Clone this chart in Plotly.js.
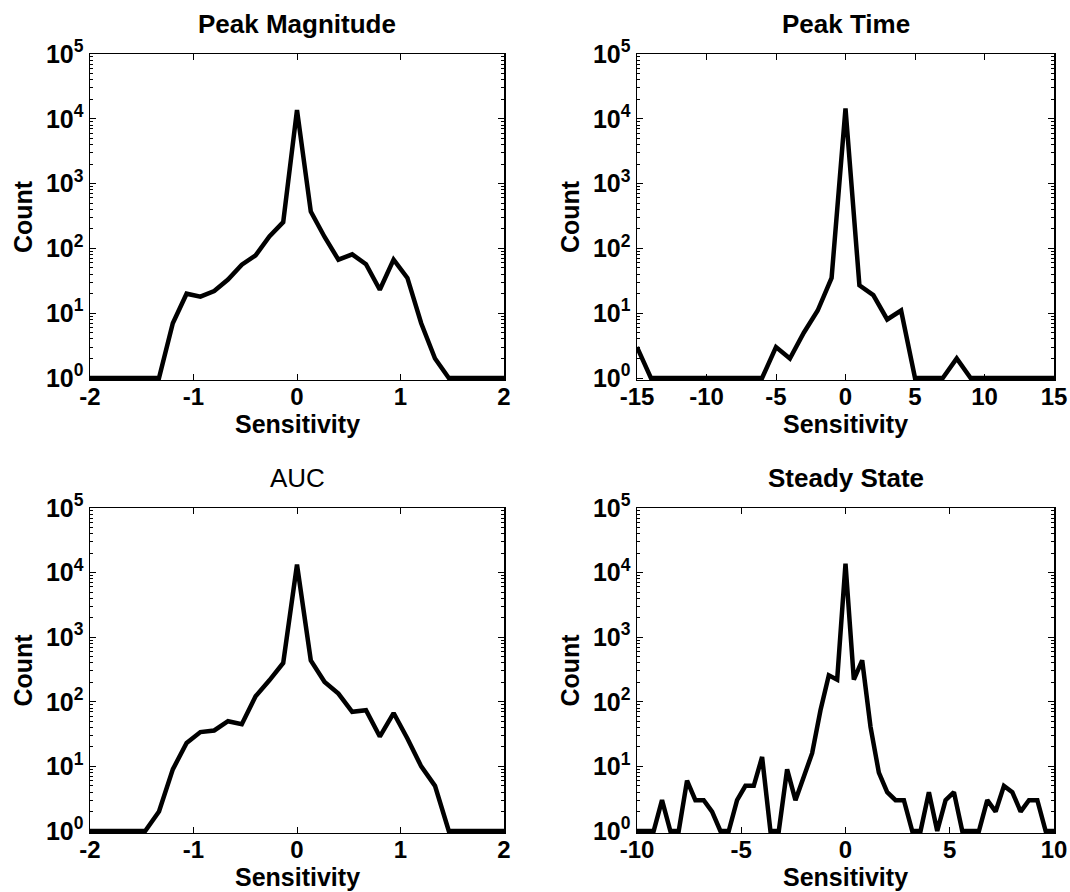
<!DOCTYPE html>
<html><head><meta charset="utf-8">
<script src="https://cdn.plot.ly/plotly-3.0.1.min.js"></script>
<style>html,body{margin:0;padding:0;background:#fff}#chart{width:1070px;height:892px}</style>
</head><body><div id="chart"></div>
<script>
// ---- data ----
const binX_pm = [-2.0000,-1.8667,-1.7333,-1.6000,-1.4667,-1.3333,-1.2000,-1.0667,-0.9333,-0.8000,-0.6667,-0.5333,-0.4000,-0.2667,-0.1333,0,0.1333,0.2667,0.4000,0.5333,0.6667,0.8000,0.9333,1.0667,1.2000,1.3333,1.4667,1.6000,1.7333,1.8667,2.0000];
const peakMagCount = [1,1,1,1,1,1,7,20,18,22,33,56,78,153,254,13700,371,150,67,81,57,23,67,35,7,2,1,1,1,1,1];
const aucCount = [1,1,1,1,1,2,9,23,34,36,50,45,122,215,399,13270,438,203,134,70,74,29,67,27,10,5,1,1,1,1,1];
const binX_pt = [-15,-14,-13,-12,-11,-10,-9,-8,-7,-6,-5,-4,-3,-2,-1,0,1,2,3,4,5,6,7,8,9,10,11,12,13,14,15];
const peakTimeCount = [3,1,1,1,1,1,1,1,1,1,3,2,5,11,35,14500,27,19,8,11,1,1,1,2,1,1,1,1,1,1,1];
const binX_ss = [-10,-9.6,-9.2,-8.8,-8.4,-8.0,-7.6,-7.2,-6.8,-6.4,-6.0,-5.6,-5.2,-4.8,-4.4,-4.0,-3.6,-3.2,-2.8,-2.4,-2.0,-1.6,-1.2,-0.8,-0.4,0,0.4,0.8,1.2,1.6,2.0,2.4,2.8,3.2,3.6,4.0,4.4,4.8,5.2,5.6,6.0,6.4,6.8,7.2,7.6,8.0,8.4,8.8,9.2,9.6,10];
const steadyCount = [1,1,1,3,1,1,6,3,3,2,1,1,3,5,5,14,1,1,9,3,7,16,74,257,220,13750,220,438,41,8,4,3,3,1,1,4,1,3,4,1,1,1,3,2,5,4,2,3,3,1,1];
const panelTitles = ["Peak Magnitude","Peak Time","AUC","Steady State"];
const xRanges = [[-2,2],[-15,15],[-2,2],[-10,10]];
const xTickVals_pm = [-2,-1,0,1,2];
const xTickText_pm = ["-2","-1","0","1","2"];
const xTickVals_pt = [-15,-10,-5,0,5,10,15];
const xTickText_pt = ["-15","-10","-5","0","5","10","15"];
const xTickVals_ss = [-10,-5,0,5,10];
const xTickText_ss = ["-10","-5","0","5","10"];
const yTickVals = [1,10,100,1000,10000,100000];
const yTickText = ["10<sup>0</sup>","10<sup>1</sup>","10<sup>2</sup>","10<sup>3</sup>","10<sup>4</sup>","10<sup>5</sup>"];
const xLabel = "Sensitivity", yLabel = "Count";

// ---- layout geometry (pixels) ----
const W = 1070, H = 892;
const FONT = "Liberation Sans, Arial, Helvetica, sans-serif";
const ext = 0.03; // decades below 10^0 so the baseline line is not half clipped
const boxes = [ // [left, right, top, y=1 pixel]
  [90, 504, 54, 378],
  [637, 1054, 54, 378],
  [90, 504, 508, 831],
  [637, 1054, 508, 831]
];
const xTicks = [[xTickVals_pm, xTickText_pm],[xTickVals_pt, xTickText_pt],[xTickVals_pm, xTickText_pm],[xTickVals_ss, xTickText_ss]];
const minorVals = [];
for (let d = 0; d < 5; d++) for (let k = 2; k <= 9; k++) minorVals.push(k * Math.pow(10, d));

const series = [[binX_pm, peakMagCount],[binX_pt, peakTimeCount],[binX_pm, aucCount],[binX_ss, steadyCount]];
const traces = [];
const layout = {
  width: W, height: H, showlegend: false,
  margin: {l: 0, r: 0, t: 0, b: 0},
  paper_bgcolor: "#fff", plot_bgcolor: "#fff",
  font: {family: FONT, color: "#000"},
  annotations: []
};

boxes.forEach((b, i) => {
  const n = i + 1;
  const xa = n === 1 ? "xaxis" : "xaxis" + n;
  const ya = n === 1 ? "yaxis" : "yaxis" + n;
  traces.push({
    x: series[i][0], y: series[i][1], type: "scatter", mode: "lines",
    xaxis: "x" + (n === 1 ? "" : n), yaxis: "y" + (n === 1 ? "" : n),
    line: {color: "#000", width: 4.5}, hoverinfo: "x+y"
  });
  const pxPerDec = (b[3] - b[2]) / 5;
  const bottomPx = b[3] + ext * pxPerDec;
  layout[xa] = {
    domain: [b[0] / W, b[1] / W],
    anchor: "y" + (n === 1 ? "" : n),
    range: xRanges[i], tickvals: xTicks[i][0], ticktext: xTicks[i][1],
    showline: true, linecolor: "#000", linewidth: 1.5, mirror: "allticks",
    ticks: "inside", ticklen: 6, tickwidth: 1, tickcolor: "#000",
    ticklabelstandoff: -5,
    showgrid: false, zeroline: false,
    tickfont: {family: FONT, size: 24, weight: "bold", color: "#000"}
  };
  layout[ya] = {
    domain: [1 - bottomPx / H, 1 - b[2] / H],
    anchor: "x" + (n === 1 ? "" : n),
    type: "log", range: [-ext, 5],
    tickvals: yTickVals, ticktext: yTickText,
    showline: true, linecolor: "#000", linewidth: 1.5, mirror: "allticks",
    ticks: "inside", ticklen: 6, tickwidth: 1, tickcolor: "#000",
    minor: {tickvals: minorVals, ticks: "inside", ticklen: 3, tickwidth: 1, tickcolor: "#000", showgrid: false},
    showgrid: false, zeroline: false,
    tickfont: {family: FONT, size: 25, weight: "bold", color: "#000"},
    title: {text: yLabel, font: {family: FONT, size: 25, weight: "bold", color: "#000"}, standoff: 6}
  };
  // panel title
  layout.annotations.push({
    text: panelTitles[i], xref: "paper", yref: "paper",
    x: (b[0] + b[1]) / 2 / W, y: 1 - (b[2] - 30) / H,
    xanchor: "center", yanchor: "middle", showarrow: false,
    font: {family: FONT, size: 26, weight: i === 2 ? "normal" : "bold", color: "#000"}
  });
  // x-axis label
  layout.annotations.push({
    text: xLabel, xref: "paper", yref: "paper",
    x: (b[0] + b[1]) / 2 / W, y: 1 - (b[3] + 31) / H,
    xanchor: "center", yanchor: "top", showarrow: false, borderpad: 0,
    font: {family: FONT, size: 25, weight: "bold", color: "#000"}
  });
});

Plotly.newPlot("chart", traces, layout, {staticPlot: true, displayModeBar: false});
</script>
</body></html>
